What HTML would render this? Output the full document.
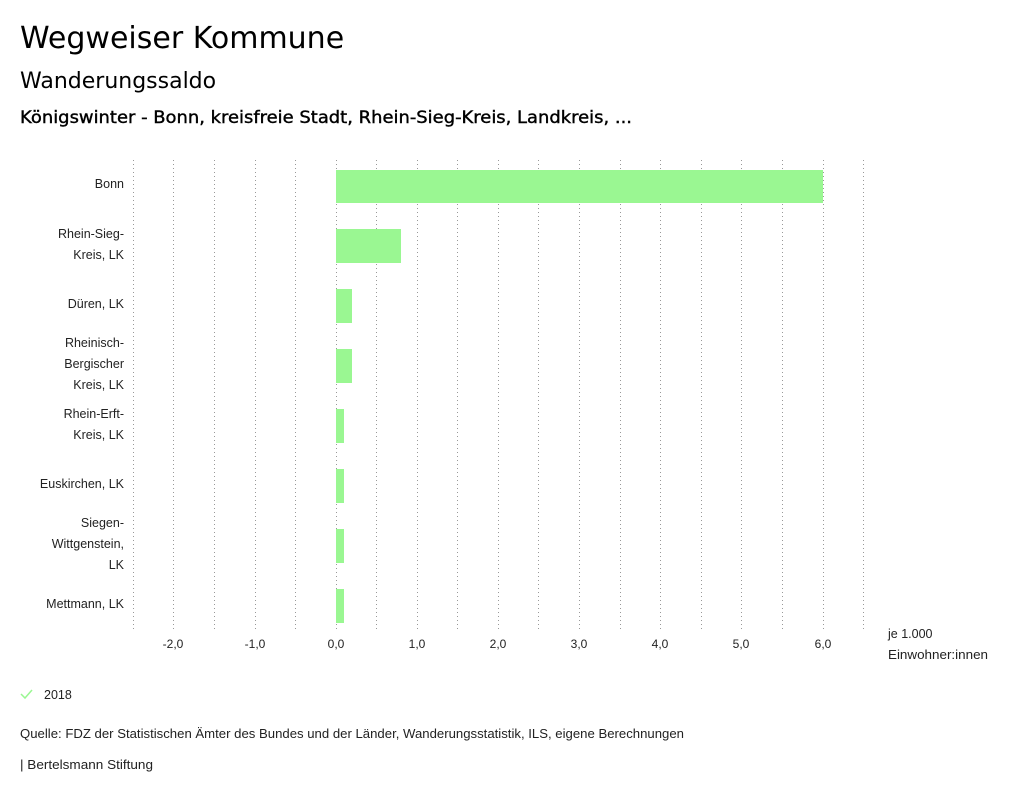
<!DOCTYPE html>
<html><head><meta charset="utf-8"><style>
body{margin:0;background:#fff;width:1024px;height:797px;overflow:hidden}
svg{display:block}
</style></head><body>
<svg width="1024" height="797" xmlns="http://www.w3.org/2000/svg" font-family="Liberation Sans, sans-serif">
<text x="20" y="48" font-family="DejaVu Sans, sans-serif" font-size="30" fill="#000">Wegweiser Kommune</text>
<text x="20" y="88" font-family="DejaVu Sans, sans-serif" font-size="22" fill="#000">Wanderungssaldo</text>
<text x="20" y="123" font-family="DejaVu Sans, sans-serif" font-size="17" fill="#000" stroke="#000" stroke-width="0.4" textLength="612" lengthAdjust="spacingAndGlyphs">Königswinter - Bonn, kreisfreie Stadt, Rhein-Sieg-Kreis, Landkreis, ...</text>
<g stroke="#999" stroke-width="1" stroke-dasharray="1,3">
<line x1="133.5" y1="160" x2="133.5" y2="630"/><line x1="173.5" y1="160" x2="173.5" y2="630"/>
<line x1="214.5" y1="160" x2="214.5" y2="630"/><line x1="255.5" y1="160" x2="255.5" y2="630"/>
<line x1="295.5" y1="160" x2="295.5" y2="630"/><line x1="336.5" y1="160" x2="336.5" y2="630"/>
<line x1="376.5" y1="160" x2="376.5" y2="630"/><line x1="417.5" y1="160" x2="417.5" y2="630"/>
<line x1="457.5" y1="160" x2="457.5" y2="630"/><line x1="498.5" y1="160" x2="498.5" y2="630"/>
<line x1="538.5" y1="160" x2="538.5" y2="630"/><line x1="579.5" y1="160" x2="579.5" y2="630"/>
<line x1="620.5" y1="160" x2="620.5" y2="630"/><line x1="660.5" y1="160" x2="660.5" y2="630"/>
<line x1="701.5" y1="160" x2="701.5" y2="630"/><line x1="741.5" y1="160" x2="741.5" y2="630"/>
<line x1="782.5" y1="160" x2="782.5" y2="630"/><line x1="823.5" y1="160" x2="823.5" y2="630"/>
<line x1="863.5" y1="160" x2="863.5" y2="630"/>
</g>
<g fill="#9af792">
<rect x="336" y="170" width="487" height="33"/>
<rect x="336" y="229" width="65" height="34"/>
<rect x="336" y="289" width="16" height="34"/>
<rect x="336" y="349" width="16" height="34"/>
<rect x="336" y="409" width="8" height="34"/>
<rect x="336" y="469" width="8" height="34"/>
<rect x="336" y="529" width="8" height="34"/>
<rect x="336" y="589" width="8" height="34"/>
</g>
<g font-size="12.5" fill="#222" text-anchor="end">
<text x="124" y="188">Bonn</text>
<text x="124" y="238">Rhein-Sieg-</text><text x="124" y="259">Kreis, LK</text>
<text x="124" y="308">Düren, LK</text>
<text x="124" y="347">Rheinisch-</text><text x="124" y="368">Bergischer</text><text x="124" y="389">Kreis, LK</text>
<text x="124" y="418">Rhein-Erft-</text><text x="124" y="439">Kreis, LK</text>
<text x="124" y="488">Euskirchen, LK</text>
<text x="124" y="527">Siegen-</text><text x="124" y="548">Wittgenstein,</text><text x="124" y="569">LK</text>
<text x="124" y="608">Mettmann, LK</text>
</g>
<g font-size="12" fill="#222" text-anchor="middle">
<text x="173" y="648">-2,0</text><text x="255" y="648">-1,0</text><text x="336" y="648">0,0</text>
<text x="417" y="648">1,0</text><text x="498" y="648">2,0</text><text x="579" y="648">3,0</text>
<text x="660" y="648">4,0</text><text x="741" y="648">5,0</text><text x="823" y="648">6,0</text>
</g>
<text x="888" y="638" font-size="12.5" fill="#222">je 1.000</text>
<text x="888" y="659" font-size="12.5" fill="#222" textLength="100" lengthAdjust="spacingAndGlyphs">Einwohner:innen</text>
<polyline points="21,694 25,698 32,690" fill="none" stroke="#9af792" stroke-width="1.5"/>
<text x="44" y="699" font-size="12.5" fill="#222">2018</text>
<text x="20" y="738" font-size="13" fill="#222" textLength="664" lengthAdjust="spacingAndGlyphs">Quelle: FDZ der Statistischen Ämter des Bundes und der Länder, Wanderungsstatistik, ILS, eigene Berechnungen</text>
<text x="20" y="769" font-size="13" fill="#222" textLength="133" lengthAdjust="spacingAndGlyphs">| Bertelsmann Stiftung</text>
</svg>
</body></html>
